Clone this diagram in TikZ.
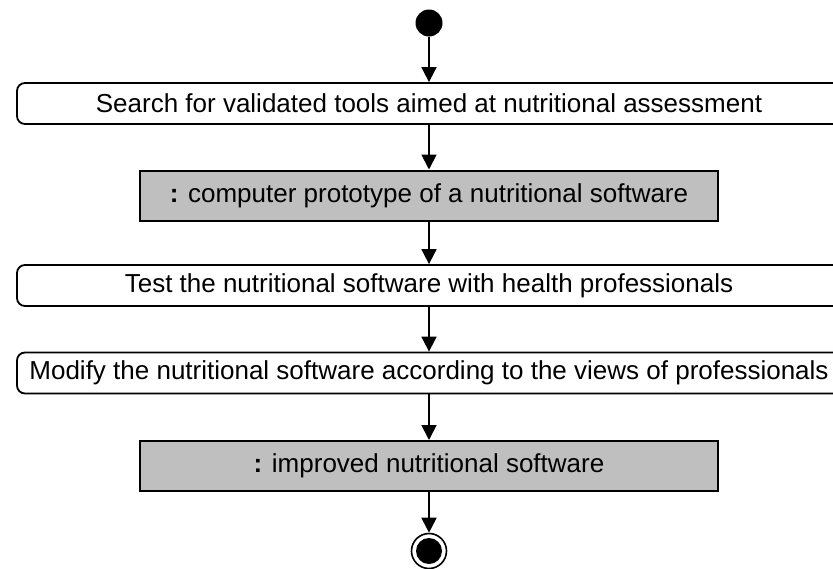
\documentclass[tikz,border=0pt]{standalone}
\usepackage{fontspec}
\setmainfont{Liberation Sans}
\usetikzlibrary{arrows.meta}
\begin{document}
\begin{tikzpicture}[x=1pt,y=-1pt,
  every node/.style={font=\fontsize{26}{30}\selectfont},
  action/.style={draw, line width=1.8pt, rounded corners=8pt, fill=white,
    minimum width=824pt, minimum height=41pt, inner sep=0pt},
  object/.style={draw, line width=2pt, fill=black!25,
    minimum width=578pt, minimum height=50pt, inner sep=0pt},
  flow/.style={line width=1.8pt, -{Triangle[length=15pt,width=15pt]}},
  initial/.style={circle, fill=black, minimum size=27pt, inner sep=0pt},
  final/.style={circle, draw, line width=1.6pt, minimum size=35pt, inner sep=0pt,
    path picture={\fill (path picture bounding box.center) circle (13pt);}}]
\useasboundingbox (0,0) rectangle (833,568);
\clip (0,0) rectangle (833,568);

\node[initial] (start) at (429,23) {};
\node[action] (search) at (429,103.5) {Search for validated tools aimed at nutritional assessment};
\node[object] (proto) at (429,195.5) {\textbf{:} computer prototype of a nutritional software};
\node[action] (test) at (429,285.5) {Test the nutritional software with health professionals};
\node[action] (modify) at (429,373) {Modify the nutritional software according to the views of professionals};
\node[object] (improved) at (429,466) {\textbf{:} improved nutritional software};
\node[final] (stop) at (429,551) {};

\draw[flow] (start) -- (search);
\draw[flow] (search) -- (proto);
\draw[flow] (proto) -- (test);
\draw[flow] (test) -- (modify);
\draw[flow] (modify) -- (improved);
\draw[flow] (improved) -- (stop);
\end{tikzpicture}
\end{document}
